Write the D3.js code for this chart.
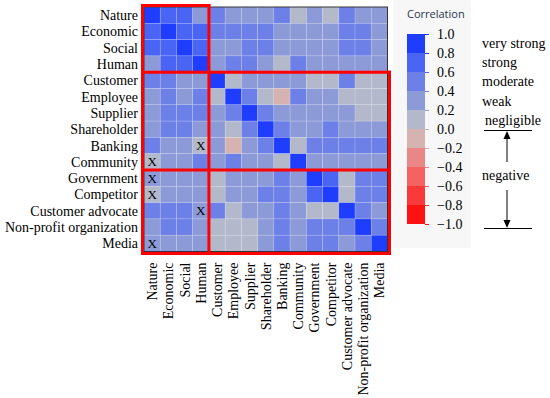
<!DOCTYPE html>
<html>
<head>
<meta charset="utf-8">
<script src="https://cdn.jsdelivr.net/npm/d3@7"></script>
<style>
  body { margin: 0; background: #fff; }
  svg { display: block; }
  .lbl { font-family: "Liberation Serif", "Times New Roman", serif; font-size: 14px; fill: #000; }
</style>
</head>
<body>
<div id="chart"></div>
<script>
// stakeholder / sustainability categories (rows and columns in same order)
const categories = ['Nature', 'Economic', 'Social', 'Human', 'Customer', 'Employee', 'Supplier',
  'Shareholder', 'Banking', 'Community', 'Government', 'Competitor', 'Customer advocate',
  'Non-profit organization', 'Media'];

// lower triangle of the correlation matrix (row i holds cols 0..i)
const lowerTriangle = [
  [1],
  [0.72, 1],
  [0.70, 0.66, 1],
  [0.35, 0.68, 0.70, 1],
  [0.52, 0.50, 0.32, 0.30, 1],
  [0.34, 0.48, 0.36, 0.44, 0.12, 1],
  [0.30, 0.46, 0.50, 0.52, 0.30, 0.48, 1],
  [0.32, 0.55, 0.52, 0.34, 0.28, 0.10, 0.50, 1],
  [0.50, 0.30, 0.32, 0.08, 0.30, -0.08, 0.30, 0.46, 1],
  [0.14, 0.32, 0.30, 0.50, 0.28, 0.46, 0.30, 0.32, 0.12, 1],
  [0.26, 0.34, 0.30, 0.32, 0.14, 0.32, 0.30, 0.30, 0.44, 0.30, 1],
  [0.16, 0.30, 0.32, 0.30, 0.16, 0.34, 0.32, 0.46, 0.48, 0.30, 0.72, 1],
  [0.50, 0.54, 0.48, 0.30, 0.50, 0.14, 0.30, 0.34, 0.46, 0.32, 0.16, 0.18, 1],
  [0.30, 0.46, 0.50, 0.32, 0.14, 0.16, 0.16, 0.30, 0.48, 0.34, 0.46, 0.50, 0.46, 1],
  [0.28, 0.32, 0.30, 0.34, 0.12, 0.14, 0.12, 0.32, 0.46, 0.30, 0.48, 0.44, 0.34, 0.48, 1]
];

// cells marked with an X (row, col)
const crossed = [['Banking', 'Human'], ['Community', 'Nature'], ['Government', 'Nature'],
  ['Competitor', 'Nature'], ['Customer advocate', 'Human'], ['Media', 'Nature']];

// group boundaries (index where a new group starts)
const groupStarts = [4, 10];

const legendTicks = [1.0, 0.8, 0.6, 0.4, 0.2, 0.0, -0.2, -0.4, -0.6, -0.8, -1.0];
const binColors = ['#ff1212', '#fa3a3a', '#f46262', '#e98787', '#d6b2b0',
  '#b4b8cb', '#8d9ad8', '#6c80e7', '#4a64f3', '#1f3dff'];
const strengthLabels = ['very strong', 'strong', 'moderate', 'weak', 'negligible'];

const width = 550, height = 398;
const heat = {left: 144, top: 7, right: 387.5, bottom: 251.5};

const svg = d3.select('#chart').append('svg')
  .attr('width', width)
  .attr('height', height);

// build the full symmetric list of cells
const cells = [];
lowerTriangle.forEach((row, i) => {
  row.forEach((v, j) => {
    cells.push({r: categories[i], c: categories[j], v: v});
    if (i !== j) cells.push({r: categories[j], c: categories[i], v: v});
  });
});

const x = d3.scaleBand().domain(categories).range([heat.left, heat.right]);
const y = d3.scaleBand().domain(categories).range([heat.top, heat.bottom]);
const color = d3.scaleThreshold()
  .domain(d3.range(-0.8, 0.81, 0.2).map(d => +d.toFixed(1)))
  .range(binColors);

// legend panel background
svg.append('rect')
  .attr('x', 393).attr('y', 0)
  .attr('width', 78).attr('height', 248)
  .attr('fill', '#f7f7f7');

svg.append('g')
  .selectAll('rect')
  .data(cells)
  .enter()
  .append('rect')
  .attr('x', d => x(d.c))
  .attr('y', d => y(d.r))
  .attr('width', x.bandwidth())
  .attr('height', y.bandwidth())
  .attr('fill', d => color(d.v))
  .attr('stroke', 'rgba(255,255,255,0.25)')
  .attr('stroke-width', 0.6);

svg.append('rect')
  .attr('x', heat.left).attr('y', heat.top)
  .attr('width', heat.right - heat.left).attr('height', heat.bottom - heat.top)
  .attr('fill', 'none')
  .attr('stroke', '#333')
  .attr('stroke-width', 1);

svg.append('g')
  .selectAll('text')
  .data(crossed)
  .enter()
  .append('text')
  .attr('class', 'lbl')
  .attr('x', d => x(d[1]) + x.bandwidth() / 2)
  .attr('y', d => y(d[0]) + y.bandwidth() / 2 + 4.5)
  .attr('text-anchor', 'middle')
  .style('font-size', '13px')
  .text('X');

// row labels
svg.append('g')
  .selectAll('text')
  .data(categories)
  .enter()
  .append('text')
  .attr('class', 'lbl')
  .attr('x', heat.left - 6)
  .attr('y', d => y(d) + y.bandwidth() / 2 + 5)
  .attr('text-anchor', 'end')
  .text(d => d);

// column labels, rotated
svg.append('g')
  .selectAll('text')
  .data(categories)
  .enter()
  .append('text')
  .attr('class', 'lbl')
  .attr('transform', d => `translate(${x(d) + x.bandwidth() / 2 + 5}, ${heat.bottom + 11}) rotate(-90)`)
  .attr('text-anchor', 'end')
  .text(d => d);

// red group outlines
const red = svg.append('g')
  .attr('stroke', '#ff0000')
  .attr('stroke-width', 3)
  .attr('fill', 'none');
const L = heat.left - 1.5, T = heat.top - 1.5, R = heat.right + 2, B = heat.bottom + 2;
const gx = x(categories[groupStarts[0]]);
red.append('line').attr('x1', L).attr('x2', L).attr('y1', T - 1.5).attr('y2', B + 1.5);
red.append('line').attr('x1', L - 1.5).attr('x2', gx + 1.5).attr('y1', T).attr('y2', T);
red.append('line').attr('x1', gx).attr('x2', gx).attr('y1', T - 1.5).attr('y2', B + 1.5);
red.append('line').attr('x1', R).attr('x2', R).attr('y1', y(categories[groupStarts[0]]) - 1.5).attr('y2', B + 1.5);
red.append('line').attr('x1', L - 1.5).attr('x2', R + 1.5).attr('y1', B).attr('y2', B);
groupStarts.forEach(g => {
  red.append('line').attr('x1', L - 1.5).attr('x2', R + 1.5)
    .attr('y1', y(categories[g])).attr('y2', y(categories[g]));
});

// colour legend
const ly = d3.scaleLinear().domain([-1, 1]).range([224, 34]);
const bins = d3.range(10).map(i => ({lo: -1 + i * 0.2, hi: -0.8 + i * 0.2, c: binColors[i]}));
const legend = svg.append('g');
legend.selectAll('rect')
  .data(bins)
  .enter()
  .append('rect')
  .attr('x', 407)
  .attr('y', d => ly(d.hi))
  .attr('width', 18)
  .attr('height', d => ly(d.lo) - ly(d.hi))
  .attr('fill', d => d.c);

legend.append('g')
  .attr('transform', 'translate(425,0)')
  .call(d3.axisRight(ly).tickValues(legendTicks).tickSize(4).tickPadding(8)
    .tickFormat(d => d3.format('.1f')(d).replace('-', '\u2212')))
  .call(g => g.select('.domain').remove())
  .call(g => g.selectAll('line').attr('stroke', d => color(d === 1 ? 0.9 : d === -1 ? -0.9 : d)))
  .call(g => g.selectAll('text')
    .attr('class', 'lbl')
    .style('font-size', '14px')
    .attr('fill', '#000'));

svg.append('text')
  .attr('x', 407).attr('y', 18)
  .style('font-family', '"Open Sans", sans-serif')
  .style('font-size', '11px')
  .attr('fill', '#2a3550')
  .text('Correlation');

// strength annotations
svg.append('g')
  .selectAll('text')
  .data(strengthLabels)
  .enter()
  .append('text')
  .attr('class', 'lbl')
  .attr('x', (d, i) => i === 4 ? 485 : 482)
  .attr('y', (d, i) => 48 + i * 19.2)
  .text(d => d);

const ann = svg.append('g').attr('stroke', '#000').attr('stroke-width', 1);
ann.append('line').attr('x1', 484).attr('x2', 532).attr('y1', ly(0) + 1.5).attr('y2', ly(0) + 1.5);
ann.append('line').attr('x1', 484).attr('x2', 532).attr('y1', ly(-1) + 4.5).attr('y2', ly(-1) + 4.5);
ann.append('line').attr('x1', 507).attr('x2', 507).attr('y1', ly(0) + 7).attr('y2', 162);
ann.append('line').attr('x1', 507).attr('x2', 507).attr('y1', 190).attr('y2', ly(-1) - 2);
svg.append('path')
  .attr('d', `M507,${ly(0) + 2}L503.5,${ly(0) + 10}L510.5,${ly(0) + 10}Z`)
  .attr('fill', '#000');
svg.append('path')
  .attr('d', `M507,${ly(-1) + 4}L503.5,${ly(-1) - 4}L510.5,${ly(-1) - 4}Z`)
  .attr('fill', '#000');
svg.append('text')
  .attr('class', 'lbl')
  .attr('x', 482).attr('y', 180)
  .text('negative');
</script>
</body>
</html>
